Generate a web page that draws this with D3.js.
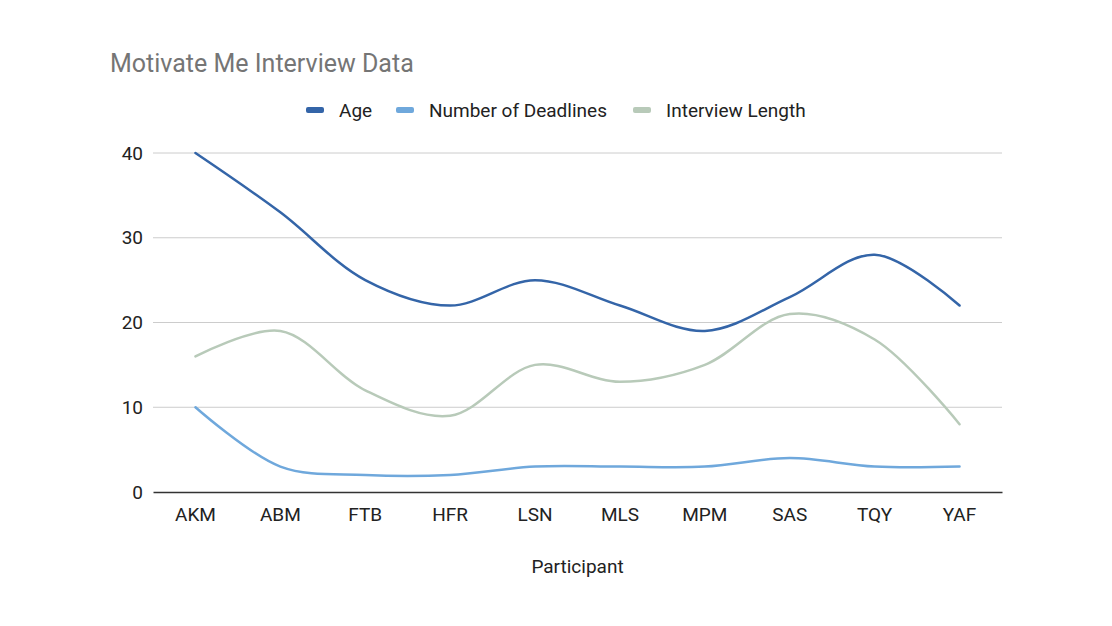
<!DOCTYPE html>
<html>
<head>
<meta charset="utf-8">
<script src="https://cdn.jsdelivr.net/npm/d3@7"></script>
<style>
  body { margin: 0; background: #fff; }
  svg { font-family: Roboto, "Noto Sans", sans-serif; }
</style>
</head>
<body>
<svg id="chart" width="1112" height="626"></svg>
<script>
var participants = ["AKM", "ABM", "FTB", "HFR", "LSN", "MLS", "MPM", "SAS", "TQY", "YAF"]
var ageValues = [40, 33, 25, 22, 25, 22, 19, 23, 28, 22]
var deadlineValues = [10, 3, 2, 2, 3, 3, 3, 4, 3, 3]
var lengthValues = [16, 19, 12, 9, 15, 13, 15, 21, 18, 8]
var seriesNames = ["Age", "Number of Deadlines", "Interview Length"]
var yTicks = [0, 10, 20, 30, 40]

var colorCodes = ["#3465a8", "#6fa8dc", "#b8cab9"]
var margin = { top: 153, bottom: 134, left: 153, right: 110 }

document.addEventListener("DOMContentLoaded", function () {
    var svg = d3.select("#chart")
    var width = 1112
    var height = 626
    var chartWidth = width - margin.left - margin.right
    var chartHeight = height - margin.top - margin.bottom

    var series = [
        { name: seriesNames[0], values: ageValues },
        { name: seriesNames[1], values: deadlineValues },
        { name: seriesNames[2], values: lengthValues }
    ]

    var colors = d3.scaleOrdinal().domain(seriesNames).range(colorCodes)

    // title
    svg.append("text")
        .attr("x", 110)
        .attr("y", 72)
        .attr("font-size", 25)
        .attr("fill", "#757575")
        .text("Motivate Me Interview Data")

    const g = svg.append("g")
        .attr("transform", `translate(${margin.left}, ${margin.top})`)

    var xScale = d3.scaleBand()
        .domain(participants)
        .range([0, chartWidth])

    var yScale = d3.scaleLinear()
        .domain([0, 40])
        .range([chartHeight, 0])

    // gridlines
    g.append("g")
        .selectAll("line")
        .data(yTicks.filter(d => d > 0))
        .enter()
        .append("line")
        .attr("x1", 0)
        .attr("x2", chartWidth)
        .attr("y1", d => yScale(d))
        .attr("y2", d => yScale(d))
        .attr("stroke", "#cccccc")
        .attr("stroke-width", 1)

    // y labels
    var yAxis = d3.axisLeft(yScale).tickValues(yTicks).tickSize(0).tickPadding(10)
    var yg = g.append("g").call(yAxis)
    yg.select(".domain").remove()
    yg.selectAll("text").attr("font-size", 19).attr("fill", "#222").attr("font-family", "Roboto, sans-serif")

    // x labels
    var xAxis = d3.axisBottom(xScale).tickSize(0).tickPadding(16)
    var xg = g.append("g")
        .attr("transform", `translate(0,${chartHeight})`)
        .call(xAxis)
    xg.select(".domain").attr("stroke", "#333").attr("stroke-width", 1.5)
    xg.selectAll("text").attr("font-size", 19).attr("fill", "#222").attr("font-family", "Roboto, sans-serif")

    // axis title
    svg.append("text")
        .attr("x", margin.left + chartWidth / 2)
        .attr("y", 573)
        .attr("text-anchor", "middle")
        .attr("font-size", 19)
        .attr("fill", "#222")
        .text("Participant")

    var line = d3.line()
        .x((d, i) => xScale(participants[i]) + xScale.bandwidth() / 2)
        .y(d => yScale(d))
        .curve(d3.curveCatmullRom.alpha(0.5))

    // draw lines back to front so Age is on top
    g.selectAll(".series")
        .data(series.slice().reverse())
        .enter()
        .append("path")
        .attr("class", "series")
        .attr("d", d => line(d.values))
        .attr("fill", "none")
        .attr("stroke", d => colors(d.name))
        .attr("stroke-width", 2.5)
        .attr("stroke-linecap", "round")

    // legend
    var legendX = [306, 396, 633]
    var legend = svg.append("g")
    seriesNames.forEach(function (name, i) {
        legend.append("rect")
            .attr("x", legendX[i])
            .attr("y", 107)
            .attr("width", 18)
            .attr("height", 6)
            .attr("rx", 2)
            .attr("fill", colors(name))
        legend.append("text")
            .attr("x", legendX[i] + 33)
            .attr("y", 117)
            .attr("font-size", 19)
            .attr("fill", "#222")
            .text(name)
    })
})
</script>
</body>
</html>
